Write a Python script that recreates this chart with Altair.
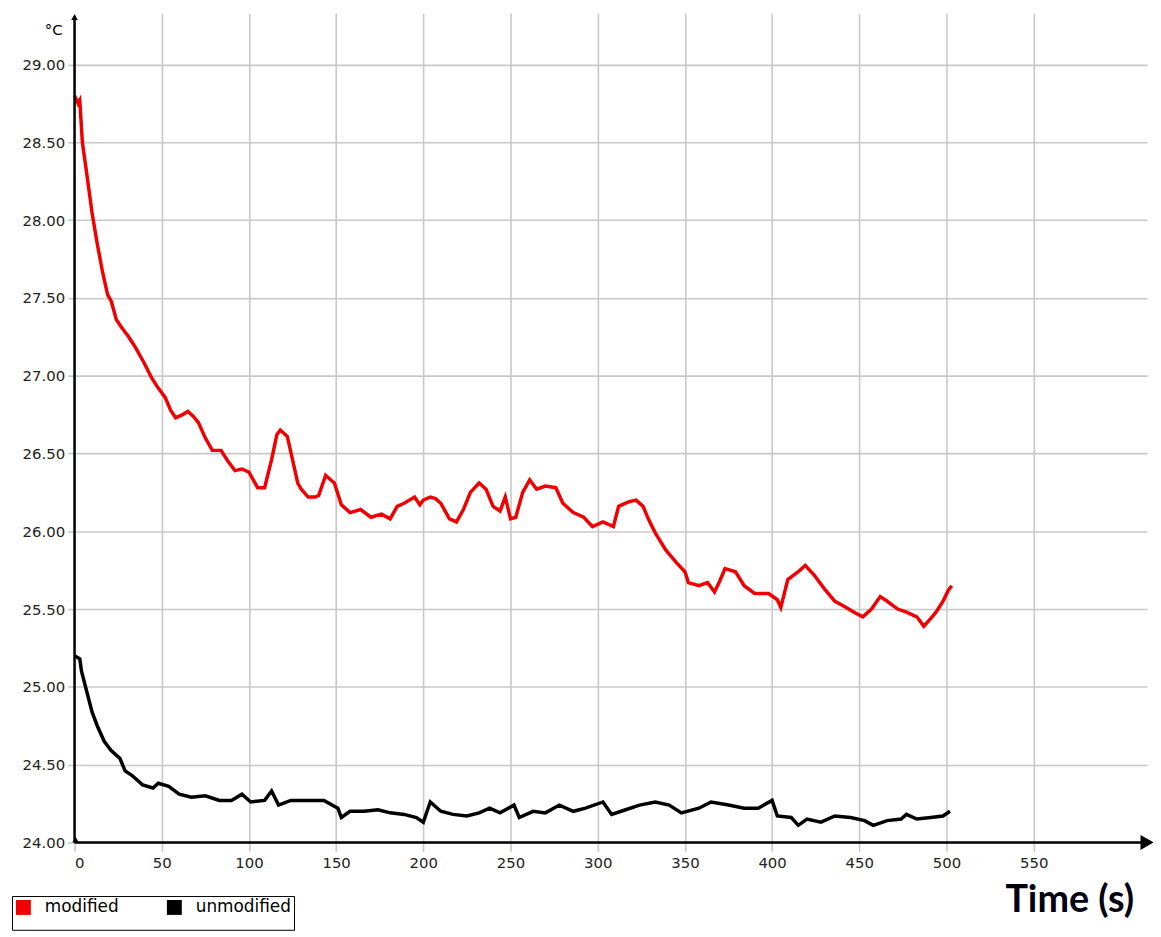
import altair as alt
import pandas as pd

# ---- data ----
mod_t = [0, 2, 3, 4.5, 7, 10, 13, 16, 19, 21, 24, 27, 31, 35, 40, 44, 48, 52, 55, 58,
         62, 65, 68, 71, 75, 79, 84, 88, 92, 96, 100, 105, 109, 113, 116, 118, 120, 122, 126, 128,
         130, 134, 138, 140, 144, 147, 149, 153, 158, 164, 170, 176, 181, 185, 189, 195, 198, 200, 204, 207,
         210, 215, 219, 223, 227, 232, 236, 240, 244, 247, 250, 253, 257, 261, 265, 270, 276, 280, 286, 292,
         297, 303, 309, 312, 318, 322, 326, 329, 333, 339, 345, 350, 352, 358, 363, 367, 370, 373, 379, 384,
         390, 398, 403, 405, 409, 415, 419, 424, 430, 436, 441, 447, 452, 457, 462, 466, 472, 477, 483, 487,
         491, 494, 498, 501, 503]
mod_v = [28.80, 28.75, 28.77, 28.50, 28.30, 28.05, 27.85, 27.67, 27.52, 27.48, 27.36, 27.31, 27.25, 27.18, 27.08, 26.99, 26.92, 26.86, 26.78, 26.73,
         26.75, 26.77, 26.74, 26.70, 26.60, 26.52, 26.52, 26.45, 26.39, 26.40, 26.38, 26.28, 26.28, 26.46, 26.62, 26.65, 26.63, 26.61, 26.41, 26.31,
         26.27, 26.22, 26.22, 26.23, 26.36, 26.33, 26.31, 26.17, 26.12, 26.14, 26.09, 26.11, 26.08, 26.16, 26.18, 26.22, 26.17, 26.20, 26.22, 26.21,
         26.18, 26.08, 26.06, 26.14, 26.25, 26.31, 26.27, 26.16, 26.13, 26.22, 26.08, 26.09, 26.25, 26.33, 26.27, 26.29, 26.28, 26.18, 26.12, 26.09,
         26.03, 26.06, 26.03, 26.16, 26.19, 26.20, 26.16, 26.08, 25.99, 25.88, 25.80, 25.74, 25.67, 25.65, 25.67, 25.61, 25.68, 25.76, 25.74, 25.65,
         25.60, 25.60, 25.56, 25.51, 25.69, 25.74, 25.78, 25.72, 25.63, 25.55, 25.52, 25.48, 25.45, 25.50, 25.58, 25.55, 25.50, 25.48, 25.45, 25.39,
         25.44, 25.48, 25.55, 25.62, 25.65]

unmod_t = [0, 3, 4, 7, 10, 13, 17, 21, 26, 29, 33, 39, 45, 48, 54, 60, 67, 75, 83, 90,
           96, 101, 109, 113, 117, 124, 134, 143, 151, 153, 158, 166, 174, 181, 189, 196, 200, 204, 210, 217,
           225, 232, 238, 244, 252, 255, 263, 270, 278, 286, 293, 303, 308, 316, 324, 333, 341, 348, 358, 365,
           375, 384, 392, 400, 403, 411, 415, 420, 428, 436, 445, 453, 458, 466, 474, 477, 483, 491, 498, 502]
unmod_v = [25.20, 25.18, 25.10, 24.97, 24.84, 24.75, 24.65, 24.59, 24.54, 24.46, 24.43, 24.37, 24.35, 24.38, 24.36, 24.31, 24.29, 24.30, 24.27, 24.27,
           24.31, 24.26, 24.27, 24.33, 24.24, 24.27, 24.27, 24.27, 24.22, 24.16, 24.20, 24.20, 24.21, 24.19, 24.18, 24.16, 24.13, 24.26, 24.20, 24.18,
           24.17, 24.19, 24.22, 24.19, 24.24, 24.16, 24.20, 24.19, 24.24, 24.20, 24.22, 24.26, 24.18, 24.21, 24.24, 24.26, 24.24, 24.19, 24.22, 24.26,
           24.24, 24.22, 24.22, 24.27, 24.17, 24.16, 24.11, 24.15, 24.13, 24.17, 24.16, 24.14, 24.11, 24.14, 24.15, 24.18, 24.15, 24.16, 24.17, 24.20]

series_names = ["modified", "unmodified"]
series_colors = ["#f00000", "#000000"]
x_ticks = list(range(0, 551, 50))
y_ticks = [24.0, 24.5, 25.0, 25.5, 26.0, 26.5, 27.0, 27.5, 28.0, 28.5, 29.0]

W, H = 1080, 835

df = pd.concat([
    pd.DataFrame({"t": mod_t, "v": mod_v, "series": "modified"}),
    pd.DataFrame({"t": unmod_t, "v": unmod_v, "series": "unmodified"}),
])

x_scale = alt.Scale(domain=[0, 615], nice=False, zero=False)
y_scale = alt.Scale(domain=[24, 29.33], nice=False, zero=False)

lines = alt.Chart(df).mark_line(strokeWidth=3.5, strokeJoin="miter").encode(
    x=alt.X("t:Q", scale=x_scale,
            axis=alt.Axis(values=x_ticks, title=None, grid=True, gridColor="#c8c8c8", gridWidth=1.6,
                          domain=False, tickColor="#c8c8c8", tickWidth=1.6, tickSize=9,
                          labelFont="DejaVu Sans", labelFontSize=15, labelColor="#222222",
                          labelPadding=4, format="d")),
    y=alt.Y("v:Q", scale=y_scale,
            axis=alt.Axis(values=y_ticks, title=None, grid=True, gridColor="#c8c8c8", gridWidth=1.6,
                          domain=False, tickColor="#c8c8c8", tickWidth=1.6, tickSize=7,
                          labelFont="DejaVu Sans", labelFontSize=15, labelColor="#222222",
                          labelPadding=3, format=".2f")),
    color=alt.Color("series:N", scale=alt.Scale(domain=series_names, range=series_colors),
                    legend=alt.Legend(orient="none", legendX=-63, legendY=889, direction="horizontal",
                                      title=None, symbolType="square", symbolSize=49,
                                      symbolStrokeWidth=8, symbolOpacity=1,
                                      labelFont="DejaVu Sans", labelFontSize=17, labelColor="#000000",
                                      strokeColor="#000000", fillColor="#ffffff", padding=3,
                                      columnPadding=36, labelOffset=13)),
    detail="series:N",
)

one = pd.DataFrame({"a": [0]})

x_axis_line = alt.Chart(one).mark_rule(color="black", strokeWidth=2.5).encode(
    x=alt.value(0), x2=alt.value(1078), y=alt.value(H))
y_axis_line = alt.Chart(one).mark_rule(color="black", strokeWidth=2.5).encode(
    x=alt.value(0), y=alt.value(3), y2=alt.value(H))
x_arrow = alt.Chart(one).mark_point(shape="triangle-right", filled=True, color="black",
                                    size=230, opacity=1).encode(x=alt.value(1080), y=alt.value(H))
y_arrow = alt.Chart(one).mark_point(shape="triangle-up", filled=True, color="black",
                                    size=45, opacity=1).encode(x=alt.value(0), y=alt.value(4))
origin = alt.Chart(one).mark_point(shape="triangle-up", filled=True, color="black",
                                   size=40, opacity=1).encode(x=alt.value(1), y=alt.value(H - 3))

unit = alt.Chart(one).mark_text(text="°C", font="DejaVu Sans", fontSize=15, color="#000000",
                                align="right", baseline="middle").encode(
    x=alt.value(-12), y=alt.value(17))
time_title = alt.Chart(one).mark_text(text="Time (s)", font="Lato", fontWeight="bold", fontSize=38,
                                      color="#000010", align="right", baseline="alphabetic").encode(
    x=alt.value(1067), y=alt.value(905))

chart = alt.layer(lines, x_axis_line, y_axis_line, x_arrow, y_arrow, origin, unit, time_title).properties(
    width=W, height=H,
    autosize=alt.AutoSizeParams(type="none"),
    padding={"left": 67, "top": 2, "right": 6, "bottom": 90},
    background="white",
).configure_view(stroke=None)

chart.save("out.html", embed_options={"renderer": "svg", "actions": False})
